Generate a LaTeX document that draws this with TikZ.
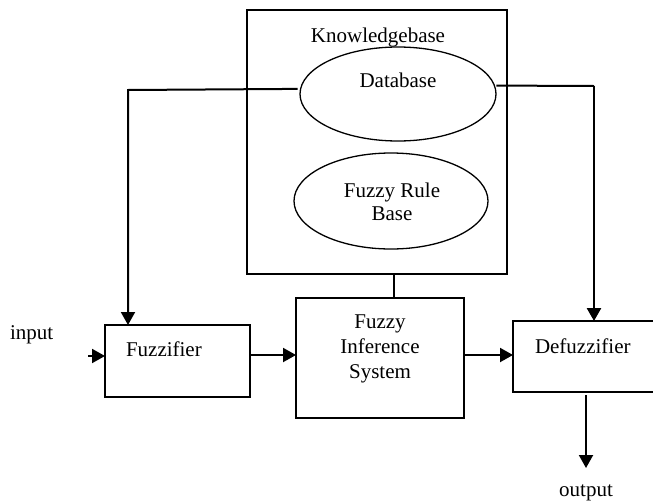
\documentclass[tikz,border=0pt]{standalone}
\usepackage{fontspec}
\setmainfont{Liberation Serif}
\usetikzlibrary{arrows.meta,shapes.geometric}
\begin{document}
\begin{tikzpicture}[x=1pt,y=-1pt,
  every node/.style={font=\fontsize{21}{24}\selectfont, inner sep=0pt, outer sep=0pt},
  boxnode/.style={draw, line width=2pt, rectangle},
  ovalnode/.style={draw, line width=1.3pt, ellipse},
  lbl/.style={anchor=base},
  lblw/.style={anchor=base west},
  wire/.style={line width=2pt},
  flow/.style={line width=2pt, -{Triangle[length=13pt,width=14pt]}}
]
\useasboundingbox (0,0) rectangle (653,501);
\clip (0,0) rectangle (653,501);

% knowledge base with its two parts
\node[boxnode, minimum width=260pt, minimum height=264pt] (kb) at (377,142) {};
\node[ovalnode, minimum width=196pt, minimum height=94pt] (db) at (398,94) {};
\node[ovalnode, minimum width=194pt, minimum height=96pt] (frb) at (391,201) {};
\node[lbl] (kbtxt) at (378,42) {Knowledgebase};
\node[lbl] (dbtxt) at (398,87) {Database};
\node[lbl] (frb1) at (392,197) {Fuzzy Rule};
\node[lbl] (frb2) at (392,220) {Base};

% processing chain
\node[boxnode, minimum width=145pt, minimum height=72pt] (fuzz) at (177.5,361) {};
\node[lblw] (fuzztxt) at (126,356) {Fuzzifier};
\node[boxnode, minimum width=168pt, minimum height=120pt] (fis) at (380,358) {};
\node[lbl] (fis1) at (380,328) {Fuzzy};
\node[lbl] (fis2) at (380,353) {Inference};
\node[lbl] (fis3) at (380,378) {System};
\node[boxnode, minimum width=167pt, minimum height=71pt] (defuzz) at (596.5,356.5) {};
\node[lblw] (defuzztxt) at (535,353) {Defuzzifier};

\node[lblw] (intxt) at (10,339) {input};
\node[lbl] (outtxt) at (586,496) {output};

% routing points
\coordinate (lc) at (128,90);
\coordinate (rc) at (594,86);
\coordinate (inpt) at (88,356);
\coordinate (outpt) at (586,468);

% connectors
\draw[flow] ([xshift=-3pt]db.177) -- (lc) -- (lc |- fuzz.north);
\draw[wire] ([xshift=2pt]db.5) -- (rc);
\draw[flow, line width=2.6pt] (rc) -- (rc |- defuzz.north);
\draw[wire] ([xshift=17pt]kb.south) -- ([xshift=17pt]kb.south |- fis.north);
\draw[flow] (inpt) -- (inpt -| fuzz.west);
\draw[flow] ([yshift=6pt]fuzz.east) -- ([yshift=6pt]fuzz.east -| fis.west);
\draw[flow] ([yshift=3pt]fis.east) -- ([yshift=3pt]fis.east -| defuzz.west);
\draw[flow, shorten <=3pt] (outpt |- defuzz.south) -- (outpt);
\end{tikzpicture}
\end{document}
